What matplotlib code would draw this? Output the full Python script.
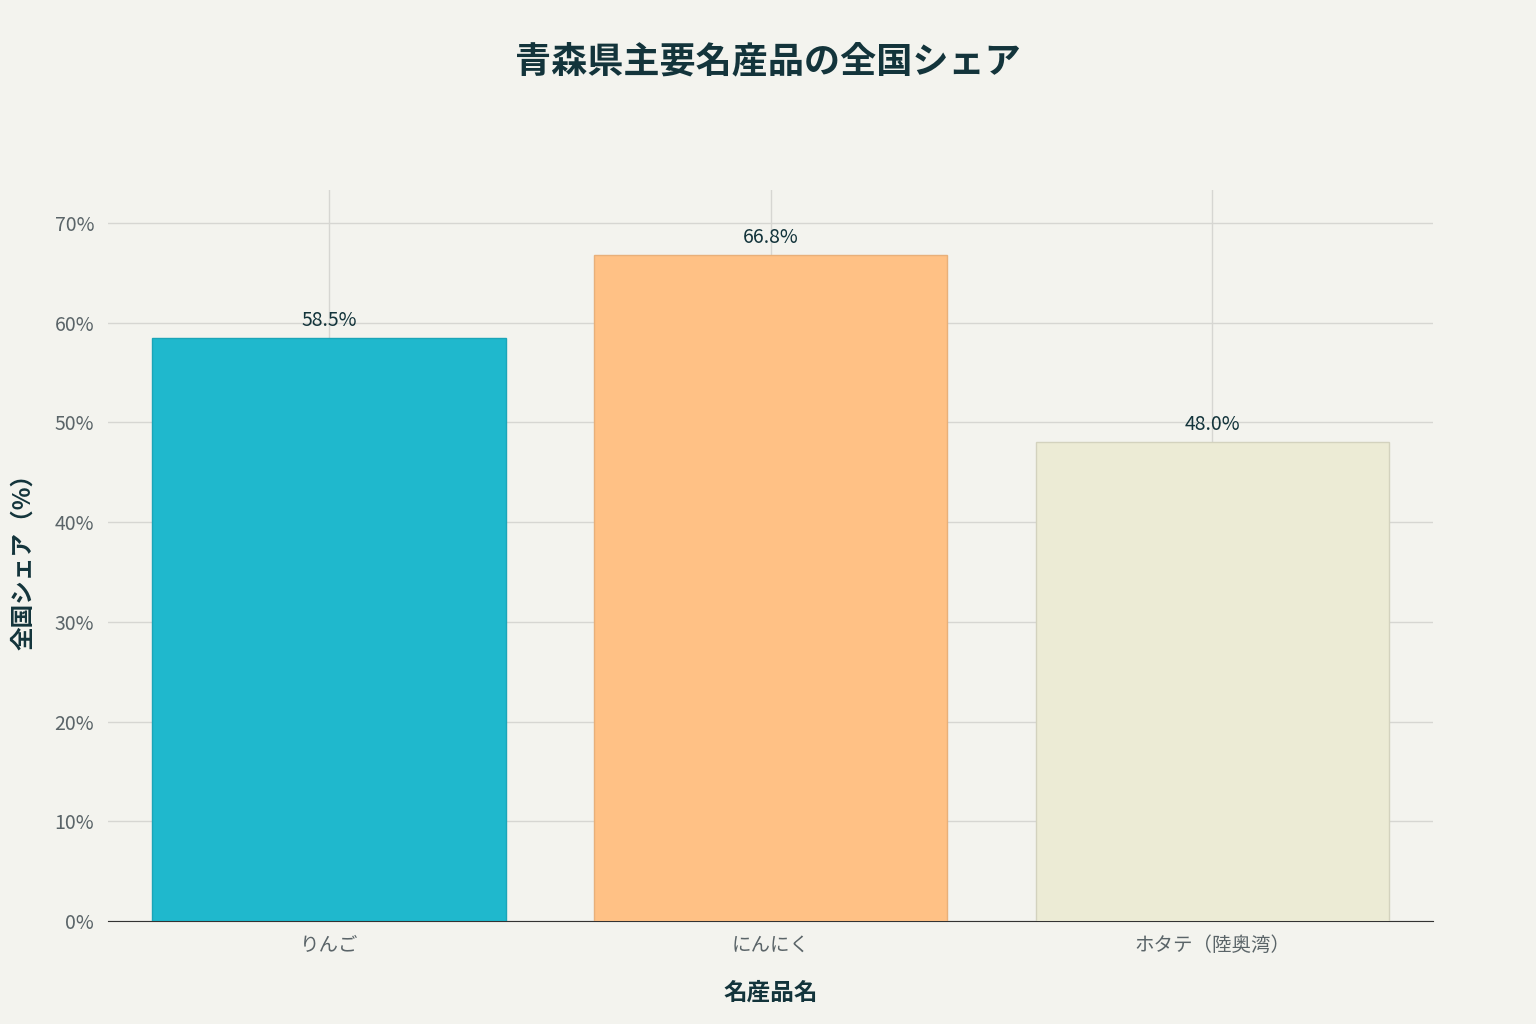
import matplotlib.pyplot as plt
from matplotlib.ticker import FuncFormatter

plt.rcParams['font.family'] = ['Noto Sans CJK JP', 'DejaVu Sans']

# data
categories = ["りんご", "にんにく", "ホタテ（陸奥湾）"]
shares = [58.5, 66.8, 48.0]
colors = ["#1FB8CD", "#FFC185", "#ECEBD5"]
edges = ["#1AA5B8", "#E8B07A", "#D3D2BE"]

bg = "#F3F3EE"
fig = plt.figure(figsize=(15.36, 10.24), dpi=100, facecolor=bg)
ax = fig.add_axes([108/1536, 1 - 921/1024, (1433-108)/1536, (921-190)/1024])
ax.set_facecolor(bg)

x = range(len(categories))
ax.bar(x, shares, width=0.8, color=colors, edgecolor=edges, linewidth=1, zorder=3)
for i, v in zip(x, shares):
    ax.text(i, v + 0.7, f"{v:.1f}%", ha="center", va="bottom", fontsize=14, color="#13343B", zorder=4)

ax.set_xlim(-0.5, 2.5)
ax.set_ylim(0, 73.3)
ax.set_yticks(range(0, 71, 10))
ax.yaxis.set_major_formatter(FuncFormatter(lambda v, p: f"{v:.0f}%"))
ax.set_xticks(list(x))
ax.set_xticklabels(categories)
ax.grid(True, color="#D6D6D2", linewidth=1, zorder=0)
for s in ["top", "right", "left"]:
    ax.spines[s].set_visible(False)
ax.spines["bottom"].set_color("#333333")
ax.tick_params(axis="both", length=0, labelsize=14, colors="#5A6468", pad=10)

ax.set_xlabel("名産品名", fontsize=17, fontweight="bold", color="#13343B", labelpad=18)
ax.set_ylabel("全国シェア（%）", fontsize=17, fontweight="bold", color="#13343B", labelpad=14)
fig.text(0.5, 1 - 62/1024, "青森県主要名産品の全国シェア", ha="center", va="center",
         fontsize=26, fontweight="bold", color="#13343B")

fig.savefig("out.png", dpi=100, facecolor=bg)
